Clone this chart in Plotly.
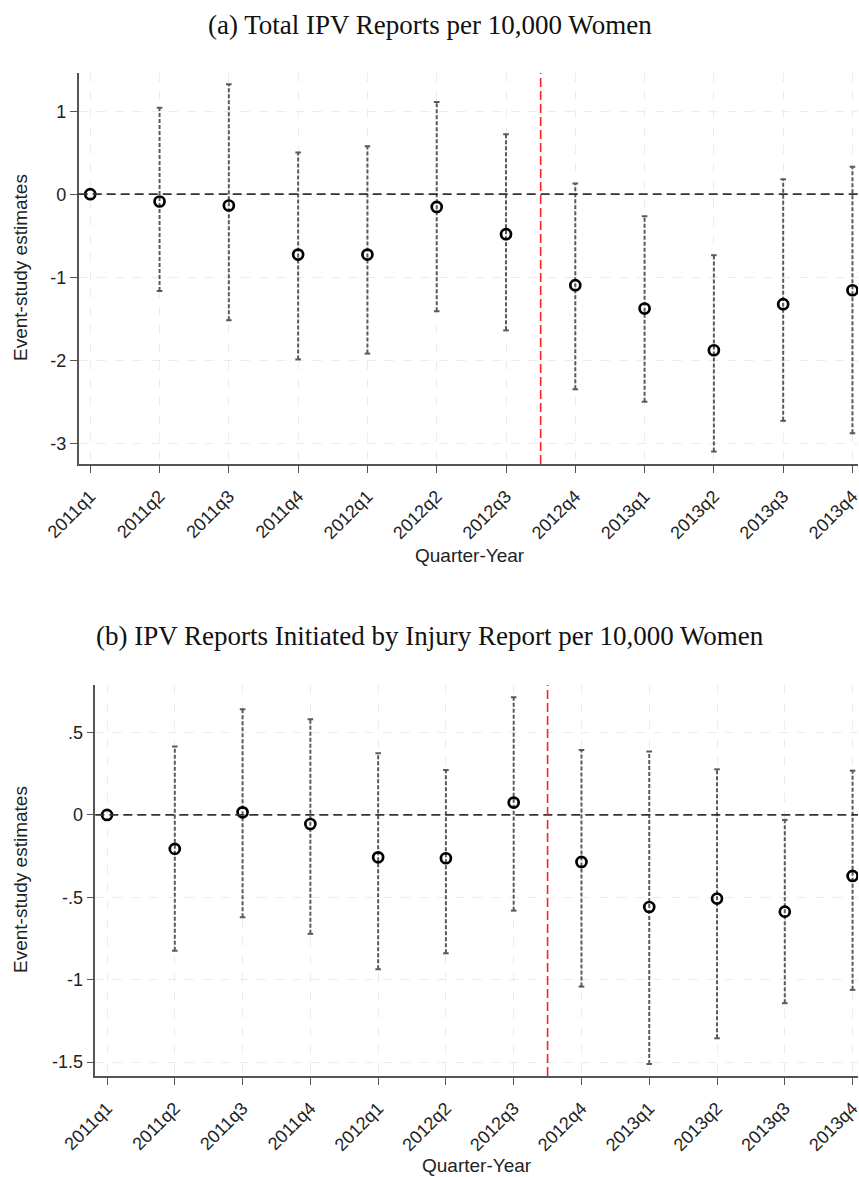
import plotly.graph_objects as go

quarters = ["2011q1", "2011q2", "2011q3", "2011q4", "2012q1", "2012q2",
            "2012q3", "2012q4", "2013q1", "2013q2", "2013q3", "2013q4"]

# Panel (a): Total IPV reports per 10,000 women
est_a = [0.0, -0.088, -0.136, -0.727, -0.727, -0.153, -0.482, -1.096, -1.377, -1.88, -1.325, -1.157]
hi_a = [0.0, 1.04, 1.325, 0.502, 0.578, 1.11, 0.723, 0.129, -0.265, -0.735, 0.18, 0.33]
lo_a = [0.0, -1.165, -1.518, -1.99, -1.92, -1.41, -1.64, -2.35, -2.50, -3.10, -2.73, -2.88]

# Panel (b): IPV reports initiated by injury report per 10,000 women
est_b = [0.0, -0.206, 0.016, -0.055, -0.257, -0.263, 0.075, -0.285, -0.559, -0.508, -0.587, -0.370]
hi_b = [0.0, 0.415, 0.642, 0.581, 0.375, 0.273, 0.715, 0.395, 0.385, 0.277, -0.030, 0.269]
lo_b = [0.0, -0.824, -0.621, -0.722, -0.937, -0.840, -0.581, -1.042, -1.512, -1.356, -1.143, -1.062]

yticks_a = [1, 0, -1, -2, -3]
yticklabels_a = ["1", "0", "-1", "-2", "-3"]
yticks_b = [0.5, 0, -0.5, -1, -1.5]
yticklabels_b = [".5", "0", "-.5", "-1", "-1.5"]

policy_x = 6.5

W, H = 859, 1177
fig = go.Figure()

xs = list(range(len(quarters)))


def add_panel(est, lo, hi, xa, ya):
    cx, cy = [], []
    capx, capy = [], []
    for i in xs:
        if i == 0:
            continue
        cx += [i, i, None]
        cy += [lo[i], hi[i], None]
        capx += [i, i]
        capy += [lo[i], hi[i]]
    fig.add_trace(go.Scatter(x=cx, y=cy, mode="lines", xaxis=xa, yaxis=ya,
                             line=dict(color="#5a5a5a", width=2, dash="4px,2px"),
                             hoverinfo="skip", showlegend=False))
    fig.add_trace(go.Scatter(x=capx, y=capy, mode="markers", xaxis=xa, yaxis=ya,
                             marker=dict(symbol="line-ew", size=4,
                                         line=dict(color="#5a5a5a", width=2)),
                             hoverinfo="skip", showlegend=False))
    fig.add_trace(go.Scatter(x=xs, y=est, mode="markers", xaxis=xa, yaxis=ya,
                             marker=dict(symbol="circle-open", size=10, color="black",
                                         line=dict(color="black", width=2.7)),
                             showlegend=False))


add_panel(est_a, lo_a, hi_a, "x", "y")
add_panel(est_b, lo_b, hi_b, "x2", "y2")

font_sans = "Liberation Sans, Arial, sans-serif"
font_serif = "Liberation Serif, Times New Roman, serif"

xaxis_common = dict(
    tickmode="array", tickvals=xs, ticktext=quarters, tickangle=-45,
    tickfont=dict(family=font_sans, size=18, color="#222"),
    ticklabeloverflow="allow", ticklabelstandoff=6,
    showline=True, linecolor="#555", linewidth=1.5,
    ticks="outside", ticklen=7, tickcolor="#555", tickwidth=1.2,
    showgrid=True, gridcolor="#ececec", griddash="dash", gridwidth=1.2,
    zeroline=False, automargin=False,
)
yaxis_common = dict(
    tickfont=dict(family=font_sans, size=18, color="#222"),
    ticklabeloverflow="allow",
    showline=True, linecolor="#555", linewidth=1.5,
    ticks="outside", ticklen=7, tickcolor="#555", tickwidth=1.2,
    showgrid=True, gridcolor="#ececec", griddash="dash", gridwidth=1.2,
    zeroline=False, automargin=False,
)

fig.update_layout(
    width=W, height=H,
    margin=dict(l=0, r=0, t=0, b=0, autoexpand=False),
    paper_bgcolor="white", plot_bgcolor="white",
    showlegend=False,
    xaxis=dict(domain=[78.7 / W, 858 / W], range=[-0.167, 11.08], anchor="y", **xaxis_common),
    yaxis=dict(domain=[1 - 464 / H, 1 - 73 / H], range=[-3.25, 1.46], anchor="x",
               tickmode="array", tickvals=yticks_a, ticktext=yticklabels_a, **yaxis_common),
    xaxis2=dict(domain=[95.3 / W, 858 / W], range=[-0.173, 11.08], anchor="y2", **xaxis_common),
    yaxis2=dict(domain=[1 - 1076 / H, 1 - 685 / H], range=[-1.585, 0.789], anchor="x2",
                tickmode="array", tickvals=yticks_b, ticktext=yticklabels_b, **yaxis_common),
)

shapes = []
for xr, yr in (("x", "y"), ("x2", "y2")):
    shapes.append(dict(type="line", xref=xr + " domain", yref=yr, x0=0, x1=1, y0=0, y1=0,
                       line=dict(color="#333", width=1.8, dash="9px,5px"), layer="above"))
    shapes.append(dict(type="line", xref=xr, yref=yr + " domain", x0=policy_x, x1=policy_x,
                       y0=0, y1=1, line=dict(color="#ff2020", width=1.6, dash="9px,4px")))
fig.update_layout(shapes=shapes)

ann_common = dict(xref="paper", yref="paper", showarrow=False, xanchor="center", yanchor="middle")
annotations = [
    dict(text="(a) Total IPV Reports per 10,000 Women", x=0.5, y=1 - 25 / H,
         font=dict(family=font_serif, size=27, color="#111"), **ann_common),
    dict(text="(b) IPV Reports Initiated by Injury Report per 10,000 Women", x=0.5, y=1 - 636 / H,
         font=dict(family=font_serif, size=27, color="#111"), **ann_common),
    dict(text="Quarter-Year", x=470 / W, y=1 - 555 / H,
         font=dict(family=font_sans, size=19, color="#222"), **ann_common),
    dict(text="Quarter-Year", x=477 / W, y=1 - 1165 / H,
         font=dict(family=font_sans, size=19, color="#222"), **ann_common),
    dict(text="Event-study estimates", x=20 / W, y=1 - 268 / H, textangle=-90,
         font=dict(family=font_sans, size=19, color="#222"), **ann_common),
    dict(text="Event-study estimates", x=20 / W, y=1 - 880 / H, textangle=-90,
         font=dict(family=font_sans, size=19, color="#222"), **ann_common),
]
fig.update_layout(annotations=annotations)

fig.write_html("out.html", config={"displayModeBar": False},
               post_script="document.body.style.margin='0px';")
